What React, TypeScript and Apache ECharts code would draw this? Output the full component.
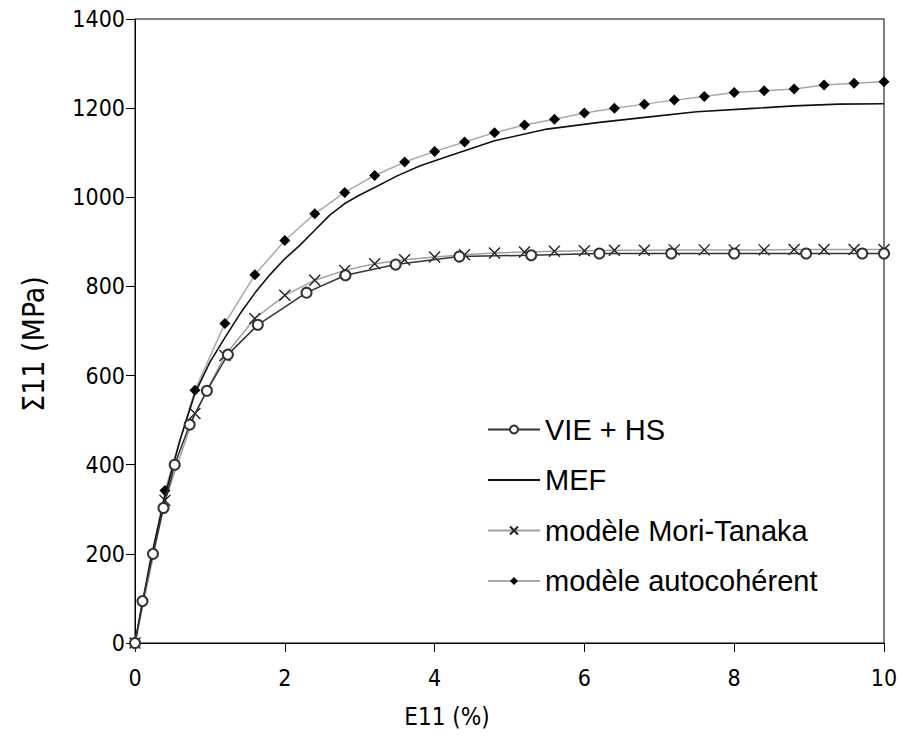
import React, { useEffect, useRef } from "react";
import * as echarts from "echarts";

const vieHs: [number, number][] = [
  [0, 0], [0.1, 94], [0.24, 200], [0.38, 303], [0.53, 400], [0.73, 490], [0.96, 566],
  [1.24, 647], [1.64, 714], [2.29, 786], [2.81, 825], [3.48, 849], [4.33, 867],
  [5.29, 870], [6.2, 874], [7.16, 874], [8.0, 874], [8.96, 874], [9.71, 874], [10, 874],
];

const mef: [number, number][] = [
  [0, 0], [0.2, 180], [0.4, 330], [0.6, 455], [0.8, 560], [1.0, 630], [1.2, 685],
  [1.4, 738], [1.6, 785], [1.8, 826], [2.0, 862], [2.2, 892], [2.4, 926], [2.6, 960],
  [2.8, 986], [3.0, 1005], [3.2, 1022], [3.5, 1048], [3.8, 1070], [4.2, 1093],
  [4.8, 1127], [5.5, 1153], [6.2, 1168], [6.9, 1181], [7.5, 1192], [8.2, 1199],
  [8.8, 1205], [9.4, 1209], [10, 1210],
];

const moriTanaka: [number, number][] = [
  [0, 0], [0.4, 320], [0.8, 515], [1.2, 645], [1.6, 728], [2.0, 780], [2.4, 814],
  [2.8, 836], [3.2, 851], [3.6, 860], [4.0, 866], [4.4, 871], [4.8, 875], [5.2, 877],
  [5.6, 879], [6.0, 880], [6.4, 881], [6.8, 881], [7.2, 882], [7.6, 882], [8.0, 882],
  [8.4, 882], [8.8, 883], [9.2, 883], [9.6, 883], [10, 883],
];

const autocoherent: [number, number][] = [
  [0, 0], [0.4, 342], [0.8, 567], [1.2, 717], [1.6, 826], [2.0, 903], [2.4, 963],
  [2.8, 1011], [3.2, 1049], [3.6, 1079], [4.0, 1103], [4.4, 1124], [4.8, 1145],
  [5.2, 1162], [5.6, 1175], [6.0, 1189], [6.4, 1200], [6.8, 1209], [7.2, 1218],
  [7.6, 1226], [8.0, 1235], [8.4, 1239], [8.8, 1243], [9.2, 1252], [9.6, 1256],
  [10, 1259],
];

const seriesNames = ["VIE + HS", "MEF", "modèle Mori-Tanaka", "modèle autocohérent"];
const xTitle = "E11 (%)";
const yTitle = "Σ11 (MPa)";

const FONT = "'Liberation Sans', Arial, sans-serif";
const NARROW = "'Liberation Sans Narrow', 'DejaVu Sans Condensed', 'Liberation Sans', sans-serif";

export default function App() {
  const ref = useRef<HTMLDivElement>(null);
  useEffect(() => {
    document.body.style.margin = "0";
    if (!ref.current) return;
    const chart = echarts.init(ref.current, undefined, { renderer: "svg" });
    chart.setOption({
      animation: false,
      backgroundColor: "#ffffff",
      textStyle: { fontFamily: FONT },
      grid: {
        left: 135,
        right: 17,
        top: 19,
        bottom: 108,
        show: true,
        borderColor: "#000",
        borderWidth: 1,
      },
      graphic: [
        {
          type: "text",
          x: 447,
          y: 717,
          style: {
            text: xTitle,
            fill: "#000",
            fontSize: 24,
            fontFamily: NARROW,
            align: "center",
            verticalAlign: "middle",
          },
        },
        {
          type: "text",
          x: 33,
          y: 344,
          rotation: Math.PI / 2,
          style: {
            text: yTitle,
            fill: "#000",
            fontSize: 30,
            fontFamily: NARROW,
            align: "center",
            verticalAlign: "middle",
          },
        },
      ],
      legend: {
        orient: "vertical",
        left: 482,
        top: 410,
        itemWidth: 52,
        itemHeight: 10,
        itemGap: 21.5,
        textStyle: { fontSize: 29, color: "#000", fontFamily: FONT },
        data: [
          { name: seriesNames[0] },
          { name: seriesNames[1], itemStyle: { opacity: 0 } },
          { name: seriesNames[2] },
          { name: seriesNames[3] },
        ],
      },
      xAxis: {
        type: "value",
        min: 0,
        max: 10,
        interval: 2,
        axisLine: { lineStyle: { color: "#000", width: 1 } },
        axisTick: { show: true, inside: false, length: 9, lineStyle: { color: "#000" } },
        axisLabel: { fontSize: 23, color: "#000", margin: 23, fontFamily: NARROW },
        splitLine: { show: false },
      },
      yAxis: {
        type: "value",
        min: 0,
        max: 1400,
        interval: 200,
        axisLine: { show: true, lineStyle: { color: "#000", width: 1 } },
        axisTick: { show: true, inside: false, length: 9, lineStyle: { color: "#000" } },
        axisLabel: {
          fontSize: 23,
          color: "#000",
          margin: 10,
          fontFamily: NARROW,
          formatter: (v: number) => String(v),
        },
        splitLine: { show: false },
      },
      series: [
        {
          name: seriesNames[0],
          type: "line",
          data: vieHs,
          symbol: "emptyCircle",
          symbolSize: 10,
          lineStyle: { color: "#333", width: 1.5 },
          itemStyle: { color: "#333", borderColor: "#333", borderWidth: 1.2 },
          z: 4,
        },
        {
          name: seriesNames[1],
          type: "line",
          data: mef,
          symbol: "none",
          showSymbol: false,
          lineStyle: { color: "#111", width: 1.6 },
          itemStyle: { color: "#111" },
          z: 3,
        },
        {
          name: seriesNames[2],
          type: "line",
          data: moriTanaka,
          symbol: "path://M0,0L10,10M10,0L0,10",
          symbolSize: 11,
          lineStyle: { color: "#a0a0a0", width: 1.5 },
          itemStyle: { color: "#222", borderColor: "#222", borderWidth: 1.4 },
          z: 2,
        },
        {
          name: seriesNames[3],
          type: "line",
          data: autocoherent,
          symbol: "diamond",
          symbolSize: 11,
          lineStyle: { color: "#a8a8a8", width: 1.5 },
          itemStyle: { color: "#000" },
          z: 2,
        },
      ],
    });
    return () => chart.dispose();
  }, []);
  return <div ref={ref} style={{ width: 901, height: 751 }} />;
}
